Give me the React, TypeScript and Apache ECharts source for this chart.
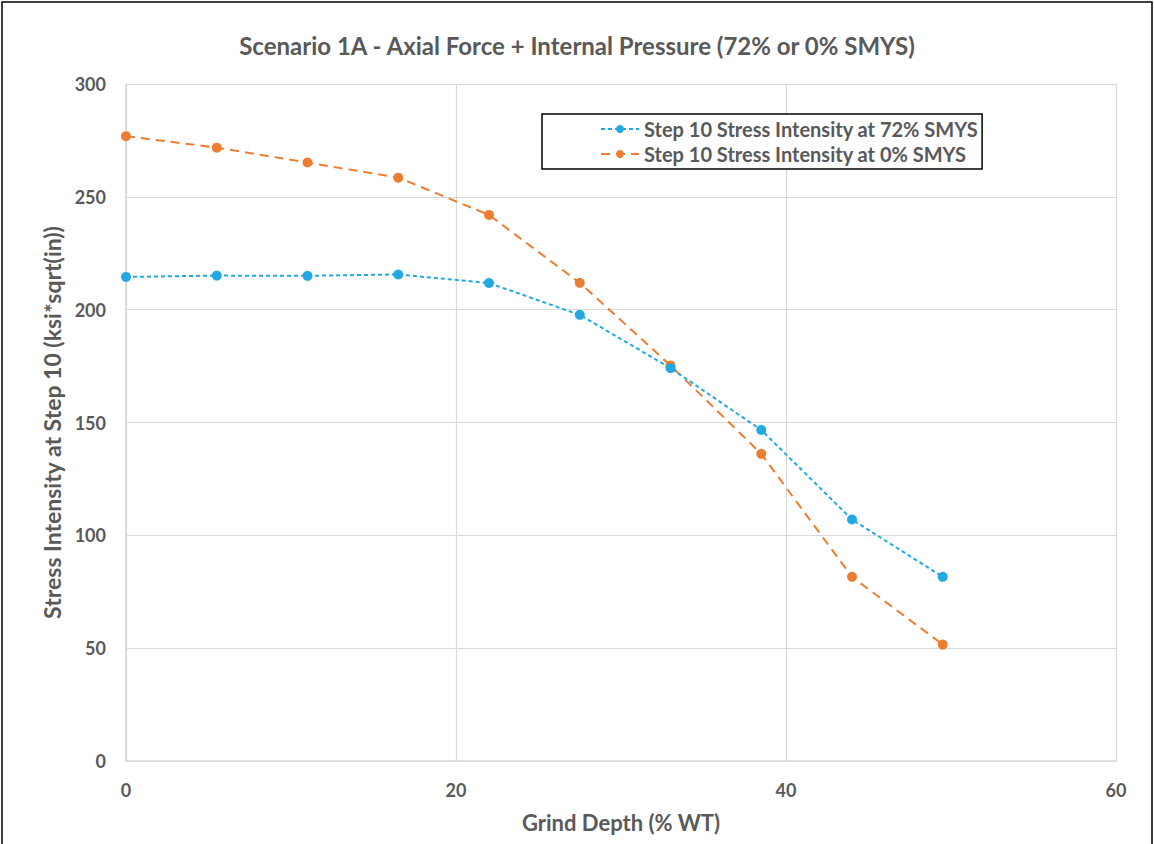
import React, { useEffect, useRef } from "react";
import * as echarts from "echarts";

const xDepth = [0, 5.5, 11, 16.5, 22, 27.5, 33, 38.5, 44, 49.5];
const si72 = [214.5, 215.1, 215.0, 215.6, 211.8, 197.7, 174.1, 146.7, 107.0, 81.6];
const si0 = [276.9, 271.8, 265.2, 258.5, 242.0, 211.9, 175.3, 136.1, 81.6, 51.6];
const seriesNames = ["Step 10 Stress Intensity at 72% SMYS", "Step 10 Stress Intensity at 0% SMYS"];
const titleText = "Scenario 1A - Axial Force + Internal Pressure (72% or 0% SMYS)";
const xName = "Grind Depth (% WT)";
const yName = "Stress Intensity at Step 10 (ksi*sqrt(in))";

const FONT = "Lato";
const GREY = "#595959";

export default function App() {
  const ref = useRef<HTMLDivElement>(null);
  useEffect(() => {
    const chart = echarts.init(ref.current!, null, { renderer: "svg" });
    chart.setOption({
      animation: false,
      backgroundColor: "#fff",
      textStyle: { fontFamily: FONT },
      title: {
        text: titleText,
        left: "center",
        top: 28,
        textStyle: { fontFamily: FONT, fontSize: 24, fontWeight: "bold", color: GREY },
      },
      graphic: [
        {
          type: "rect",
          shape: { x: 2, y: 2, width: 1150, height: 846 },
          style: { fill: "none", stroke: "#000", lineWidth: 1.5 },
          silent: true,
        },
      ],
      legend: {
        orient: "vertical",
        left: 542,
        top: 114,
        padding: [5, 4, 5, 58],
        itemGap: 5,
        itemWidth: 38,
        itemHeight: 10,
        borderColor: "#000",
        borderWidth: 1.5,
        backgroundColor: "#fff",
        textStyle: { fontFamily: FONT, fontSize: 20, fontWeight: "bold", color: GREY },
        data: seriesNames,
      },
      grid: { left: 126, right: 38, top: 84, bottom: 83, containLabel: false },
      xAxis: {
        type: "value",
        min: 0,
        max: 60,
        interval: 20,
        name: xName,
        nameLocation: "middle",
        nameGap: 50,
        nameTextStyle: { fontFamily: FONT, fontSize: 22, fontWeight: "bold", color: GREY },
        axisLine: { show: true, lineStyle: { color: "#d9d9d9", width: 1.5 } },
        axisTick: { show: false },
        axisLabel: { fontFamily: FONT, fontSize: 18, fontWeight: "bold", color: GREY, margin: 20 },
        splitLine: { show: true, lineStyle: { color: "#d9d9d9", width: 1.2 } },
      },
      yAxis: {
        type: "value",
        min: 0,
        max: 300,
        interval: 50,
        name: yName,
        nameLocation: "middle",
        nameGap: 57,
        nameTextStyle: { fontFamily: FONT, fontSize: 23, fontWeight: "bold", color: GREY },
        axisLine: { show: true, lineStyle: { color: "#d9d9d9", width: 1.5 } },
        axisTick: { show: false },
        axisLabel: { fontFamily: FONT, fontSize: 18, fontWeight: "bold", color: GREY, margin: 20 },
        splitLine: { show: true, lineStyle: { color: "#d9d9d9", width: 1.2 } },
      },
      series: [
        {
          name: seriesNames[0],
          type: "line",
          data: xDepth.map((x, i) => [x, si72[i]]),
          symbol: "circle",
          symbolSize: 10,
          itemStyle: { color: "#22A9E1" },
          lineStyle: { color: "#22A9E1", width: 2, type: [4, 3] },
          z: 3,
        },
        {
          name: seriesNames[1],
          type: "line",
          data: xDepth.map((x, i) => [x, si0[i]]),
          symbol: "circle",
          symbolSize: 10,
          itemStyle: { color: "#ED7D31" },
          lineStyle: { color: "#ED7D31", width: 2, type: [9, 6] },
          z: 2,
        },
      ],
    });
    return () => chart.dispose();
  }, []);
  return (
    <div
      ref={ref}
      style={{ position: "fixed", left: 0, top: 0, width: 1154, height: 844, background: "#fff" }}
    />
  );
}
